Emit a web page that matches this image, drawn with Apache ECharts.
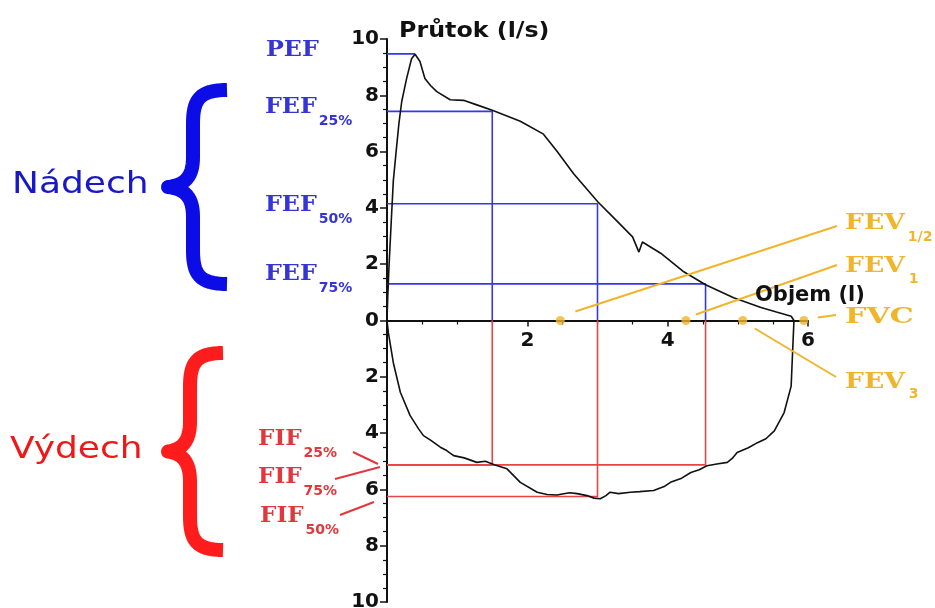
<!DOCTYPE html>
<html><head><meta charset="utf-8">
<script src="https://cdn.jsdelivr.net/npm/echarts@6/dist/echarts.min.js"></script>
<style>html,body{margin:0;padding:0;background:#fff}#c{width:935px;height:608px}</style>
</head><body><div id="c"></div>
<script>
// Expiratory (upper) limb: volume (l), flow (l/s)
const expVol  = [0, 0.01, 0.03, 0.06, 0.09, 0.13, 0.17, 0.21, 0.28, 0.35, 0.40, 0.47, 0.54, 0.62, 0.71, 0.90, 1.09, 1.28, 1.51, 1.90, 2.23, 2.42, 2.66, 3.01, 3.25, 3.50, 3.59, 3.64, 3.90, 4.23, 4.54, 4.94, 5.20, 5.33, 5.55, 5.76, 5.80];
const expFlow = [0, 0.8, 2.0, 3.5, 4.96, 6.0, 7.0, 7.78, 8.6, 9.3, 9.46, 9.2, 8.6, 8.35, 8.13, 7.84, 7.82, 7.66, 7.46, 7.08, 6.62, 6.02, 5.21, 4.2, 3.6, 2.97, 2.43, 2.79, 2.39, 1.73, 1.27, 0.81, 0.58, 0.46, 0.3, 0.15, 0];
// Inspiratory (lower) limb
const inspVol  = [0, 0.02, 0.09, 0.19, 0.33, 0.45, 0.52, 0.62, 0.76, 0.85, 0.95, 1.10, 1.28, 1.40, 1.54, 1.71, 1.90, 2.14, 2.28, 2.42, 2.60, 2.71, 2.85, 2.95, 3.04, 3.12, 3.18, 3.30, 3.47, 3.60, 3.80, 3.95, 4.04, 4.20, 4.33, 4.45, 4.56, 4.70, 4.85, 4.92, 4.99, 5.15, 5.28, 5.40, 5.52, 5.66, 5.76, 5.78, 5.80];
const inspFlow = [0, -0.44, -1.5, -2.55, -3.38, -3.85, -4.09, -4.25, -4.5, -4.62, -4.8, -4.88, -5.04, -5.0, -5.13, -5.27, -5.75, -6.1, -6.18, -6.2, -6.12, -6.15, -6.22, -6.31, -6.33, -6.22, -6.1, -6.15, -6.1, -6.08, -6.04, -5.9, -5.75, -5.6, -5.4, -5.3, -5.16, -5.1, -5.04, -4.9, -4.69, -4.52, -4.34, -4.2, -3.92, -3.27, -2.33, -1.14, 0];
// Peak expiratory flow
const pefVol = 0.40, pefFlow = 9.47;
// FEF25/50/75
const fefVol  = [1.50, 3.00, 4.54];
const fefFlow = [7.43, 4.15, 1.30];
// FIF25/50/75
const fifVol  = [1.50, 3.00, 4.54];
const fifFlow = [-5.13, -6.25, -5.13];
// FEV1/2, FEV1, FEV3, FVC markers on volume axis
const fevNames = ['FEV1/2', 'FEV1', 'FEV3', 'FVC'];
const fevVol   = [2.47, 4.26, 5.07, 5.94];
// Axis ranges / tick labels
const yTicks = [-10, -8, -6, -4, -2, 0, 2, 4, 6, 8, 10];
const xTicks = [0, 2, 4, 6];

const BLUE_LINE = '#3636ee', RED_LINE = '#e64446', ORANGE = '#f0b52a';
const BLUE_TXT = '#3535d6', RED_TXT = '#e0383c';

const W = 935, H = 608;
const GRID = {left:387, right:127, top:39, bottom:6};
const yMin = yTicks[0], yMax = yTicks[yTicks.length-1];
const gridH = H - GRID.top - GRID.bottom;
const zeroOffset = gridH * (0 - yMin) / (yMax - yMin); // distance from bottom edge to y=0

const chart = echarts.init(document.getElementById('c'));
function pairs(xs, ys){ return xs.map((x,i)=>[x, ys[i]]); }

const series = [];
series.push({type:'line', data:[[0,pefFlow],[pefVol,pefFlow]], showSymbol:false, silent:true,
  lineStyle:{color:BLUE_LINE, width:1.6}, z:1});
fefVol.forEach((v,i)=>{
  series.push({type:'line', data:[[0,fefFlow[i]],[v,fefFlow[i]],[v,0]], showSymbol:false, silent:true,
    lineStyle:{color:BLUE_LINE, width:1.6}, z:1});
});
fifVol.forEach((v,i)=>{
  series.push({type:'line', data:[[0,fifFlow[i]],[v,fifFlow[i]],[v,0]], showSymbol:false, silent:true,
    lineStyle:{color:RED_LINE, width:1.6}, z:1});
});
series.push({type:'line', data:pairs(expVol, expFlow), showSymbol:false, silent:true,
  lineStyle:{color:'#111', width:1.6}, z:3});
series.push({type:'line', data:pairs(inspVol, inspFlow), showSymbol:false, silent:true,
  lineStyle:{color:'#111', width:1.6}, z:3});
series.push({type:'scatter', data:fevVol.map(v=>[v,0]), symbolSize:9, silent:true,
  itemStyle:{color:ORANGE}, z:5});

chart.setOption({
  animation:false,
  grid:Object.assign({containLabel:false, outerBoundsMode:'none'}, GRID),
  xAxis:{type:'value', min:xTicks[0], max:xTicks[xTicks.length-1], interval:2,
    position:'bottom', offset:-zeroOffset,
    axisLine:{onZero:false, lineStyle:{color:'#111', width:2}},
    axisTick:{show:true, length:6, lineStyle:{color:'#111', width:1.5}},
    minorTick:{show:true, splitNumber:4, length:4, lineStyle:{color:'#111', width:1.2}},
    axisLabel:{formatter:v=> v===0 ? '' : String(v), margin:10, fontSize:20, fontWeight:'bold', color:'#111', fontFamily:'DejaVu Sans'},
    splitLine:{show:false}},
  yAxis:{type:'value', min:yMin, max:yMax, interval:2,
    axisLine:{show:true, onZero:false, lineStyle:{color:'#111', width:2}},
    axisTick:{show:true, length:7, lineStyle:{color:'#111', width:1.5}},
    minorTick:{show:true, splitNumber:4, length:4, lineStyle:{color:'#111', width:1.2}},
    axisLabel:{formatter:v=> String(Math.abs(v)), margin:8, fontSize:20, fontWeight:'bold', color:'#111', fontFamily:'DejaVu Sans'},
    splitLine:{show:false}},
  series
});

// ---- annotations ----
const mctx = document.createElement('canvas').getContext('2d');
function tw(text, font){ mctx.font = font; return mctx.measureText(text).width; }
const SERIF = 'bold 22px "DejaVu Serif"';
const SUB = 'bold 14px "DejaVu Sans"';
const g = [];
function txt(x, y, text, font, fill, sx){
  g.push({type:'text', x, y, scaleX:sx||1, silent:true, z:10,
    style:{text, font, fill, align:'left', verticalAlign:'middle'}});
}
function lab(x, cy, main, sub, fill, sx, gap, subDy){
  txt(x, cy, main, SERIF, fill, sx);
  if (sub) txt(x + tw(main, SERIF)*sx + (gap||2), cy + (subDy||14), sub, SUB, fill);
}
function seg(x1,y1,x2,y2,color,w){
  g.push({type:'line', silent:true, z:9, shape:{x1,y1,x2,y2}, style:{stroke:color, lineWidth:w||2}});
}
function bez(p0,p1,p2,p3,out){
  for (let i=0;i<=16;i++){
    const t=i/16, u=1-t;
    out.push([u*u*u*p0[0]+3*u*u*t*p1[0]+3*u*t*t*p2[0]+t*t*t*p3[0],
              u*u*u*p0[1]+3*u*u*t*p1[1]+3*u*t*t*p2[1]+t*t*t*p3[1]]);
  }
}
function brace(sx, top, bot, tipX, ex, color){
  const mid = (top+bot)/2, pts = [];
  bez([ex,top],[sx+6,top],[sx,top+10],[sx,top+34],pts);
  bez([sx,mid-30],[sx,mid-10],[sx-8,mid-2],[tipX,mid],pts);
  bez([tipX,mid],[sx-8,mid+2],[sx,mid+10],[sx,mid+30],pts);
  bez([sx,bot-34],[sx,bot-10],[sx+6,bot],[ex,bot],pts);
  g.push({type:'polyline', silent:true, z:8, shape:{points:pts},
    style:{stroke:color, lineWidth:14, fill:null, lineCap:'butt', lineJoin:'round'}});
}

// axis names
txt(399, 31, 'Průtok (l/s)', 'bold 22px "DejaVu Sans"', '#111', 1.08);
txt(755, 296, 'Objem (l)', 'bold 21px "DejaVu Sans"', '#111');

// groups
txt(12, 185, 'Nádech', '30px "DejaVu Sans"', '#1818c8', 1.2);
brace(193, 90, 284, 168, 227, '#0c0ce6');
txt(10, 450, 'Výdech', '30px "DejaVu Sans"', '#ee1818', 1.2);
brace(190, 353, 550, 168, 223, '#ff1c1c');

// blue labels
lab(266, 50, 'PEF', null, BLUE_TXT, 1.08);
lab(265, 107, 'FEF', '25%', BLUE_TXT, 1.08);
lab(265, 205, 'FEF', '50%', BLUE_TXT, 1.08);
lab(265, 274, 'FEF', '75%', BLUE_TXT, 1.08);

// red labels
lab(258, 439, 'FIF', '25%', RED_TXT, 1.05);
lab(258, 477, 'FIF', '75%', RED_TXT, 1.05);
lab(260, 516, 'FIF', '50%', RED_TXT, 1.05);
seg(353, 452, 378, 464, RED_TXT, 2);
seg(335, 479, 380, 467, RED_TXT, 2);
seg(340, 515, 374, 502, RED_TXT, 2);

// orange labels & connectors
const P = fevVol.map(v => chart.convertToPixel({gridIndex:0}, [v, 0]));
lab(845, 223, 'FEV', '1/2', ORANGE, 1.21, 3, 14);
lab(845, 266, 'FEV', '1', ORANGE, 1.21, 4, 13);
lab(845, 317, 'FVC', null, ORANGE, 1.37);
lab(845, 382, 'FEV', '3', ORANGE, 1.21, 4, 12);
seg(P[0][0]+15, P[0][1]-9, 837, 226, ORANGE, 2);
seg(P[1][0]+10, P[1][1]-6, 837, 265, ORANGE, 2);
seg(P[3][0]+14, P[3][1]-3, 836, 315, ORANGE, 2);
seg(P[2][0]+12, P[2][1]+8, 836, 377, ORANGE, 2);

chart.setOption({graphic:{elements:g}});
</script></body></html>
